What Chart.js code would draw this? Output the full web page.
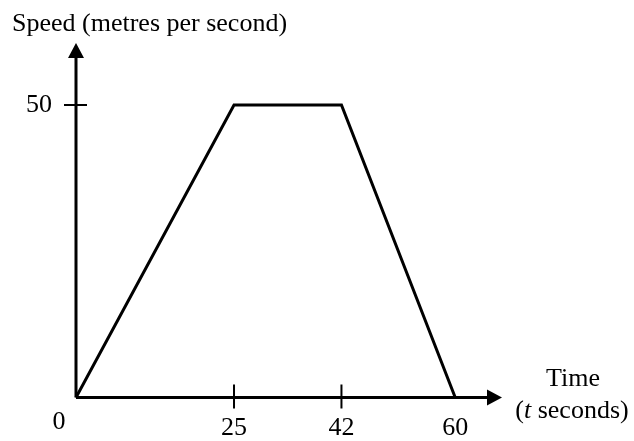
<!DOCTYPE html>
<html>
<head>
<meta charset="utf-8">
<script src="https://cdn.jsdelivr.net/npm/chart.js@4/dist/chart.umd.min.js"></script>
<style>
  html, body { margin: 0; padding: 0; background: #fff; }
</style>
</head>
<body>
<canvas id="speedChart" width="634" height="441"></canvas>
<script>
// speed-time graph: accelerate, cruise, brake
const timeValues = [0, 25, 42, 60];
const speedValues = [0, 50, 50, 0];
const xTickValues = [0, 25, 42, 60];
const xTickMarks = [25, 42];
const yTickValues = [50];

const xMax = 67.4;   // where the time-axis arrow ends
const yMax = 60.6;   // where the speed-axis arrow ends

const serif = '"Liberation Serif", "Times New Roman", serif';
const fontSize = 26;

// draws the arrowed axes, crossing tick marks and the text labels
const axesPlugin = {
  id: 'axesPlugin',
  afterDatasetsDraw(chart) {
    const ctx = chart.ctx;
    const xs = chart.scales.x;
    const ys = chart.scales.y;
    const ox = xs.getPixelForValue(0);
    const oy = ys.getPixelForValue(0);
    const xEnd = xs.getPixelForValue(xMax);
    const yEnd = ys.getPixelForValue(yMax);

    ctx.save();
    ctx.strokeStyle = '#000';
    ctx.fillStyle = '#000';
    ctx.lineWidth = 3;

    ctx.beginPath();
    ctx.moveTo(ox, oy);
    ctx.lineTo(xEnd - 10, oy);
    ctx.moveTo(ox, oy);
    ctx.lineTo(ox, yEnd + 10);
    ctx.stroke();

    // arrow heads
    ctx.beginPath();
    ctx.moveTo(xEnd, oy);
    ctx.lineTo(xEnd - 15, oy - 8);
    ctx.lineTo(xEnd - 15, oy + 8);
    ctx.closePath();
    ctx.fill();
    ctx.beginPath();
    ctx.moveTo(ox, yEnd);
    ctx.lineTo(ox - 8, yEnd + 15);
    ctx.lineTo(ox + 8, yEnd + 15);
    ctx.closePath();
    ctx.fill();

    // tick marks crossing the axes
    ctx.lineWidth = 2;
    ctx.beginPath();
    xTickMarks.forEach(v => {
      const px = xs.getPixelForValue(v);
      ctx.moveTo(px, oy - 13);
      ctx.lineTo(px, oy + 11);
    });
    yTickValues.forEach(v => {
      const py = ys.getPixelForValue(v);
      ctx.moveTo(ox - 12, py);
      ctx.lineTo(ox + 11, py);
    });
    ctx.stroke();

    const plain = fontSize + 'px ' + serif;
    ctx.font = plain;
    ctx.textBaseline = 'alphabetic';

    // origin label sits below-left of the corner
    ctx.textAlign = 'center';
    ctx.fillText('0', ox - 17, oy + 31);

    ctx.textAlign = 'left';
    ctx.fillText('Speed (metres per second)', 12, 31);

    ctx.textAlign = 'center';
    ctx.fillText('Time', 573, 386);

    // "(t seconds)" with an italic t
    const parts = [
      { t: '(', f: plain },
      { t: 't', f: 'italic ' + plain },
      { t: ' seconds)', f: plain }
    ];
    let total = 0;
    parts.forEach(p => { ctx.font = p.f; p.w = ctx.measureText(p.t).width; total += p.w; });
    let cx = 572 - total / 2;
    ctx.textAlign = 'left';
    parts.forEach(p => { ctx.font = p.f; ctx.fillText(p.t, cx, 418); cx += p.w; });

    ctx.restore();
  }
};

new Chart(document.getElementById('speedChart'), {
  type: 'scatter',
  data: {
    datasets: [{
      data: timeValues.map((t, i) => ({ x: t, y: speedValues[i] })),
      showLine: true,
      borderColor: '#000',
      borderWidth: 3,
      borderJoinStyle: 'miter',
      pointRadius: 0,
      clip: false,
      tension: 0
    }]
  },
  options: {
    responsive: false,
    animation: false,
    layout: { padding: { top: 43, right: 132, left: 0, bottom: 0 } },
    plugins: {
      legend: { display: false },
      tooltip: { enabled: false }
    },
    scales: {
      x: {
        type: 'linear',
        min: 0,
        max: xMax,
        grid: { display: false, drawTicks: false },
        border: { display: false },
        afterFit(scale) { scale.height = 43.5; },
        afterBuildTicks(scale) { scale.ticks = xTickValues.map(v => ({ value: v })); },
        ticks: {
          padding: 15,
          color: '#000',
          font: { family: serif, size: fontSize },
          callback: v => (v === 0 ? '' : String(v))
        }
      },
      y: {
        type: 'linear',
        min: 0,
        max: yMax,
        grid: { display: false, drawTicks: false },
        border: { display: false },
        afterFit(scale) { scale.width = 76; },
        afterBuildTicks(scale) { scale.ticks = yTickValues.map(v => ({ value: v })); },
        ticks: {
          padding: 24,
          color: '#000',
          font: { family: serif, size: fontSize }
        }
      }
    }
  },
  plugins: [axesPlugin]
});
</script>
</body>
</html>
